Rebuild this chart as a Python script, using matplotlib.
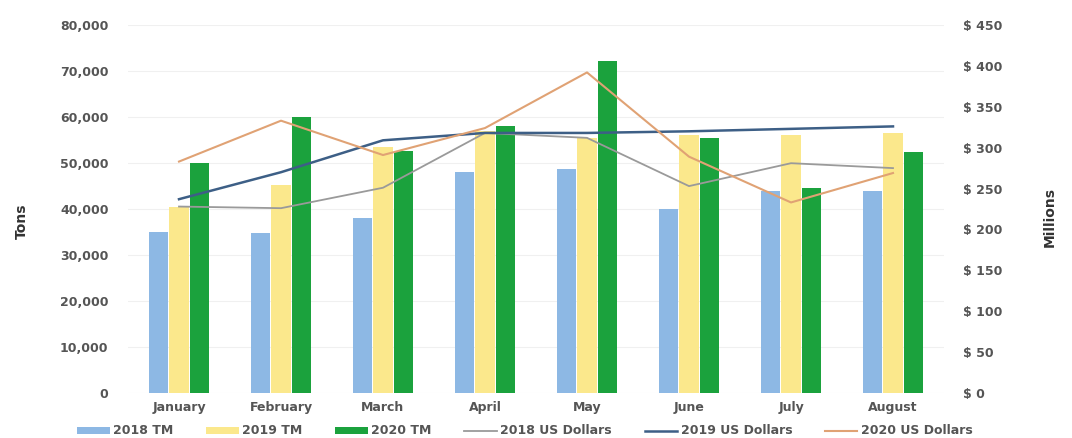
import matplotlib
matplotlib.use("Agg")
import matplotlib.pyplot as plt
import numpy as np
from matplotlib.ticker import FuncFormatter, MultipleLocator

months = ["January", "February", "March", "April", "May", "June", "July", "August"]
tm_2018 = [35000, 34700, 38000, 48000, 48700, 40000, 44000, 44000]
tm_2019 = [40500, 45200, 53500, 57000, 55500, 56000, 56000, 56500]
tm_2020 = [50000, 60000, 52700, 58000, 72200, 55500, 44500, 52300]
usd_2018 = [228, 226, 251, 318, 312, 253, 281, 275]
usd_2019 = [237, 270, 309, 318, 318, 320, 323, 326]
usd_2020 = [283, 333, 291, 324, 392, 289, 233, 269]

c_b18 = "#8DB8E4"
c_b19 = "#FBE88C"
c_b20 = "#1BA23D"
c_l18 = "#9A9A9A"
c_l19 = "#3D5F86"
c_l20 = "#E0A274"
txt = "#555555"

plt.rcParams['font.family'] = ['DejaVu Sans']
fig = plt.figure(figsize=(10.72, 4.38), dpi=100)
ax = fig.add_axes([128/1072, 45/438, (944-128)/1072, (393-25)/438])
ax2 = ax.twinx()

x = np.arange(len(months))
w = 0.19
ax.bar(x - 0.2, tm_2018, w, color=c_b18, label="2018 TM", zorder=2)
ax.bar(x, tm_2019, w, color=c_b19, label="2019 TM", zorder=2)
ax.bar(x + 0.2, tm_2020, w, color=c_b20, label="2020 TM", zorder=2)

ax2.plot(x, usd_2018, color=c_l18, lw=1.3, label="2018 US Dollars")
ax2.plot(x, usd_2019, color=c_l19, lw=1.8, label="2019 US Dollars")
ax2.plot(x, usd_2020, color=c_l20, lw=1.5, label="2020 US Dollars")

ax.set_xlim(-0.5, len(months) - 0.5)
ax.set_ylim(0, 80000)
ax2.set_ylim(0, 450)
ax.yaxis.set_major_locator(MultipleLocator(10000))
ax2.yaxis.set_major_locator(MultipleLocator(50))
ax.yaxis.set_major_formatter(FuncFormatter(lambda v, p: f"{int(v):,}"))
ax2.yaxis.set_major_formatter(FuncFormatter(lambda v, p: f"$ {int(v)}"))

ax.grid(axis='y', color="#F0F0F0", lw=0.8, zorder=0)
ax.set_axisbelow(True)
for a in (ax, ax2):
    for s in a.spines.values():
        s.set_visible(False)
    a.tick_params(length=0, labelsize=9, labelcolor=txt)
    for lab in a.get_yticklabels():
        lab.set_fontweight('bold')
ax.tick_params(axis='y', pad=14)
ax2.tick_params(axis='y', pad=14)
ax.set_xticks(x)
ax.set_xticklabels(months, fontweight='bold', fontsize=9, color=txt)
ax.tick_params(axis='x', pad=6)

fig.text(22/1072, 1 - 221/438, "Tons", rotation=90, ha='center', va='center',
         fontsize=10, fontweight='bold', color="#333333",
         family=['Liberation Sans Narrow', 'DejaVu Sans'])
fig.text(1050/1072, 1 - 217/438, "Millions", rotation=90, ha='center', va='center',
         fontsize=10, fontweight='bold', color="#333333",
         family=['Liberation Sans Narrow', 'DejaVu Sans'])

h1, l1 = ax.get_legend_handles_labels()
h2, l2 = ax2.get_legend_handles_labels()
leg = fig.legend(h1 + h2, l1 + l2, loc='center', bbox_to_anchor=(525/1072, 1 - 431/438),
                 ncol=6, frameon=False, prop={'size': 9, 'weight': 'bold'},
                 handlelength=2.6, handleheight=0.5, columnspacing=2.6, handletextpad=0.3)
for t in leg.get_texts():
    t.set_color(txt)

fig.savefig("out.png", dpi=100)
